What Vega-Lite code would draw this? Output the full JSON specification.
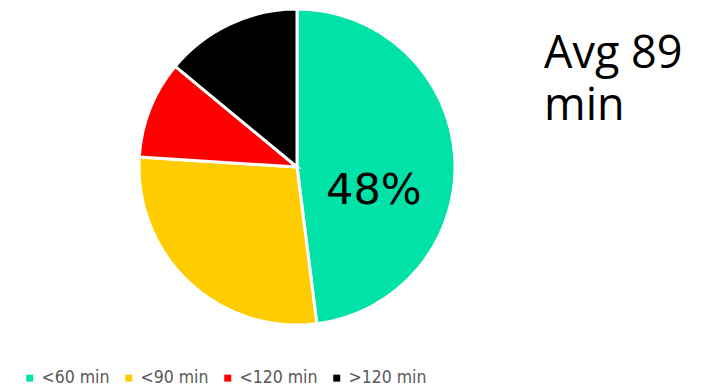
{
  "$schema": "https://vega.github.io/schema/vega-lite/v6.json",
  "width": 718,
  "height": 388,
  "padding": 0,
  "autosize": "none",
  "background": "white",
  "config": {"view": {"stroke": null}},
  "data": {
    "values": [
      {"group": "<60 min", "share": 0.48, "order": 1},
      {"group": "<90 min", "share": 0.28, "order": 2},
      {"group": "<120 min", "share": 0.10, "order": 3},
      {"group": ">120 min", "share": 0.14, "order": 4}
    ]
  },
  "layer": [
    {
      "mark": {"type": "arc", "x": 297, "y": 167, "outerRadius": 158, "stroke": "white", "strokeWidth": 3},
      "encoding": {
        "theta": {"field": "share", "type": "quantitative", "stack": true},
        "order": {"field": "order", "type": "quantitative"},
        "color": {
          "field": "group",
          "type": "nominal",
          "sort": ["<60 min", "<90 min", "<120 min", ">120 min"],
          "scale": {
            "domain": ["<60 min", "<90 min", "<120 min", ">120 min"],
            "range": ["#00E2A8", "#FFCC00", "#FF0000", "#000000"]
          },
          "legend": {
            "title": null,
            "orient": "none",
            "legendX": 21,
            "legendY": 369,
            "padding": 0,
            "direction": "horizontal",
            "symbolType": "square",
            "symbolSize": 49,
            "symbolStrokeWidth": 0,
            "labelFont": "DejaVu Sans Condensed",
            "labelFontSize": 17.5,
            "labelColor": "#595959",
            "labelOffset": 3,
            "columnPadding": 10
          }
        }
      }
    },
    {
      "transform": [{"filter": "datum.order == 1"}],
      "mark": {"type": "text", "x": 297, "y": 167, "radius": 79, "dy": 29, "dx": -2, "font": "DejaVu Sans", "fontSize": 43, "color": "black"},
      "encoding": {
        "theta": {"datum": 0.24, "type": "quantitative", "scale": {"domain": [0, 1]}},
        "text": {"field": "share", "type": "quantitative", "format": ".0%"}
      }
    },
    {
      "data": {"values": [{"line": "Avg 89", "row": 0}, {"line": "min", "row": 1}]},
      "mark": {"type": "text", "align": "left", "baseline": "alphabetic", "font": "Open Sans", "fontSize": 45, "color": "black", "x": 544},
      "encoding": {
        "y": {"field": "row", "type": "quantitative", "scale": {"domain": [0, 1], "range": [68, 120]}, "axis": null},
        "text": {"field": "line"}
      }
    }
  ]
}
